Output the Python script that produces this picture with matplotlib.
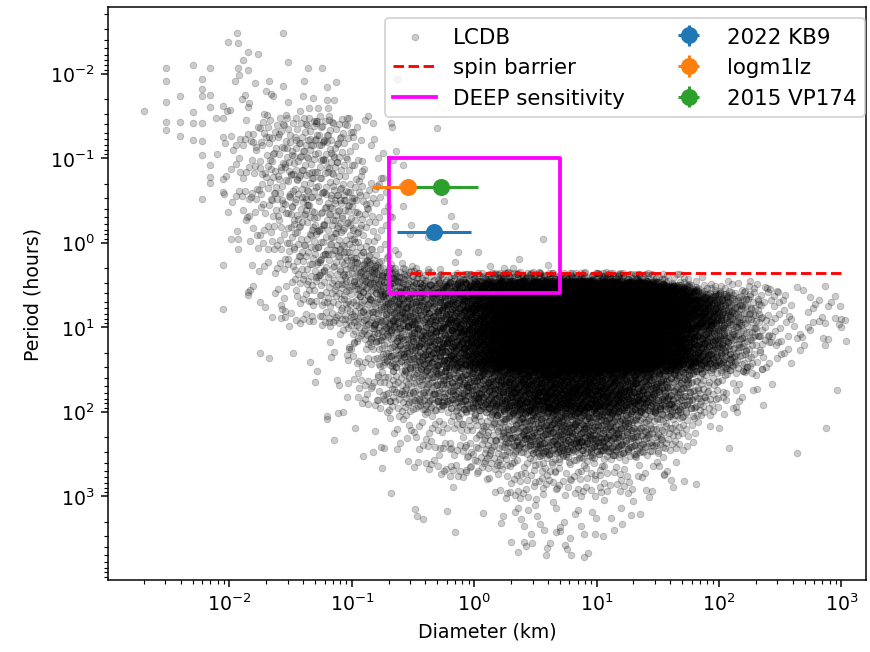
import numpy as np
import matplotlib
matplotlib.use("Agg")
import matplotlib.pyplot as plt

# ---------------- data ----------------
# LCDB dense part: per diameter column (centre in log10 km, 0.25 dex apart)
# list of (log10 P low, log10 P high, number of asteroids)
lcdb_col_logd = [-1.875, -1.625, -1.375, -1.125, -0.875, -0.625, -0.375, -0.125, 0.125, 0.375,
                 0.625, 0.875, 1.125, 1.375, 1.625, 1.875, 2.125, 2.375, 2.625, 2.875]
lcdb_col_segments = [
    [(-2.0, -1.5, 8), (-1.5, -0.5, 40), (-0.5, 0.0, 8)],
    [(-1.75, -1.5, 4), (-1.5, -0.3, 80), (-0.3, 0.4, 30), (0.4, 1.0, 8), (1.0, 1.4, 2)],
    [(-1.75, -1.5, 4), (-1.5, -0.5, 95), (-0.5, 0.4, 80), (0.4, 1.0, 30), (1.0, 1.6, 4)],
    [(-1.75, -1.5, 3), (-1.5, -0.5, 90), (-0.5, 0.4, 100), (0.4, 1.0, 55), (1.0, 2.0, 12), (2.0, 2.5, 2)],
    [(-1.5, -0.8, 10), (-0.8, 0.2, 70), (0.2, 0.6, 100), (0.6, 1.2, 90), (1.2, 1.9, 35), (1.9, 2.7, 6)],
    [(-1.2, 0.3, 3), (0.3, 0.6, 80), (0.6, 1.0, 130), (1.0, 1.5, 110), (1.5, 2.0, 55), (2.0, 2.6, 12), (2.6, 3.3, 3)],
    [(0.35, 0.45, 15), (0.45, 1.0, 180), (1.0, 1.5, 180), (1.5, 2.0, 95), (2.0, 2.7, 30), (2.7, 3.3, 3)],
    [(0.35, 0.45, 20), (0.45, 1.0, 290), (1.0, 1.5, 270), (1.5, 2.0, 140), (2.0, 2.8, 40), (2.8, 3.4, 2)],
    [(0.35, 0.45, 30), (0.45, 1.0, 520), (1.0, 1.5, 460), (1.5, 2.0, 220), (2.0, 2.7, 75), (2.7, 3.4, 5)],
    [(0.35, 0.45, 40), (0.45, 1.0, 760), (1.0, 1.5, 680), (1.5, 2.0, 320), (2.0, 2.5, 135), (2.5, 3.0, 30), (3.0, 3.5, 10), (3.5, 3.75, 4)],
    [(0.35, 0.45, 40), (0.45, 1.0, 850), (1.0, 1.5, 750), (1.5, 2.0, 380), (2.0, 2.5, 180), (2.5, 3.0, 30), (3.0, 3.7, 14)],
    [(0.35, 0.45, 40), (0.45, 1.0, 880), (1.0, 1.5, 780), (1.5, 2.0, 390), (2.0, 2.5, 180), (2.5, 3.0, 30), (3.0, 3.7, 12)],
    [(0.35, 0.45, 35), (0.45, 1.0, 850), (1.0, 1.5, 750), (1.5, 2.0, 340), (2.0, 2.5, 160), (2.5, 3.0, 27), (3.0, 3.5, 6)],
    [(0.35, 0.45, 25), (0.45, 1.0, 730), (1.0, 1.5, 660), (1.5, 2.0, 250), (2.0, 2.5, 95), (2.5, 3.0, 15), (3.0, 3.3, 3)],
    [(0.35, 0.5, 15), (0.5, 1.0, 560), (1.0, 1.5, 520), (1.5, 2.0, 140), (2.0, 2.5, 50), (2.5, 2.9, 8)],
    [(0.4, 0.6, 10), (0.6, 1.0, 300), (1.0, 1.5, 270), (1.5, 2.0, 55), (2.0, 2.3, 6)],
    [(0.45, 0.6, 8), (0.6, 1.0, 105), (1.0, 1.5, 100), (1.5, 2.0, 18)],
    [(0.5, 0.8, 22), (0.8, 1.2, 32), (1.2, 1.6, 12), (1.6, 2.0, 2)],
    [(0.5, 0.9, 8), (0.9, 1.4, 12)],
    [(0.6, 1.25, 18)],
]

# LCDB sparse points read individually: (log10 D [km], log10 P [h])
lcdb_sparse = [
    (-1.94, -2.48), (-1.56, -2.48), (-2.01, -2.37), (-1.93, -2.36), (-1.85, -2.26),
    (-1.77, -2.23), (-1.89, -2.16), (-1.93, -2.07), (-1.85, -2.04), (-1.52, -2.14),
    (-2.52, -2.06), (-2.30, -2.10), (-2.16, -2.06), (-1.36, -2.07), (-1.24, -2.06),
    (-1.68, -1.91), (-1.56, -1.85), (-1.64, -1.73), (-1.39, -1.91), (-1.32, -1.71),
    (-1.20, -1.84), (-1.13, -1.90),
    (-2.52, -1.91), (-2.52, -1.66), (-2.70, -1.56), (-2.40, -1.73), (-2.22, -1.94),
    (-2.52, -1.43), (-2.52, -1.33), (-2.40, -1.43), (-2.40, -1.26), (-2.30, -1.54),
    (-2.30, -1.41), (-2.30, -1.21), (-2.22, -1.82), (-2.22, -1.73), (-2.22, -1.41),
    (-2.22, -1.20), (-2.22, -1.04), (-2.22, -0.51), (-2.16, -1.75), (-2.16, -1.61),
    (-2.16, -0.92), (-2.16, -0.78), (-2.16, -0.71), (-2.10, -1.05), (-2.05, -0.75),
    (-2.05, -0.60), (-2.05, -1.48), (-2.05, -1.25), (-2.05, -1.62),
    (-2.05, 0.78), (-1.85, 0.62), (-1.83, 0.56), (-1.75, 0.70), (-1.93, 0.08),
    (-2.05, 0.27), (-1.85, 0.59), (-1.58, 0.89), (-1.57, 0.79), (-1.99, -0.04),
    (-1.93, -0.04),
    (-0.83, -1.41), (-0.67, -1.37), (-0.30, -1.36), (-0.63, -1.93),
    (-0.58, -0.92), (-0.66, -0.98), (-0.58, -0.43), (-0.52, -0.21), (-0.69, -0.31),
    (-0.62, 0.14), (-0.51, 0.28), (-0.59, 0.24), (-0.25, -0.49), (-0.19, -0.31),
    (-0.16, -0.20), (-0.38, -0.07), (-0.13, 0.11), (-0.16, 0.23), (-0.38, 0.31),
    (-0.28, 0.31), (0.03, 0.11), (0.37, 0.20), (0.56, -0.04), (0.13, 0.28),
    (0.32, 0.30), (0.24, 0.30), (0.60, 0.26),
    (2.96, 1.75), (2.87, 2.19), (2.64, 2.49), (2.08, 2.43), (2.15, 2.01),
    (3.00, 0.90), (3.00, 1.00), (2.99, 0.75),
]

# spin barrier and DEEP sensitivity box
spin_barrier_d = [0.3, 1000.0]
spin_barrier_p = 2.3
deep_d = [0.2, 5.0]
deep_p = [0.1, 4.0]

# objects
obj_names = ["2022 KB9", "logm1lz", "2015 VP174"]
obj_diam = [0.47, 0.29, 0.54]
obj_diam_low = [0.235, 0.145, 0.27]
obj_diam_high = [0.94, 0.58, 1.07]
obj_period = [0.74, 0.22, 0.22]
obj_colors = ["#1f77b4", "#ff7f0e", "#2ca02c"]

# axis ticks
x_major_ticks = [1e-2, 1e-1, 1e0, 1e1, 1e2, 1e3]
y_major_ticks = [1e-2, 1e-1, 1e0, 1e1, 1e2, 1e3]

# ---------------- expand density columns into points ----------------
# deterministic low-discrepancy filling; triangular spreading blends columns
# and segments smoothly, except at the sharp spin-barrier edge.
COL_W = 0.25
P_BLEND = 0.1
G3 = 1.2207440846057596
A1, A2, A3 = 1 / G3, 1 / G3 ** 2, 1 / G3 ** 3


def tri(u):
    return np.where(u < 0.5, np.sqrt(2 * u) - 1, 1 - np.sqrt(2 * (1 - u)))


k0 = 0
xs, ys = [], []
for ld, segs in zip(lcdb_col_logd, lcdb_col_segments):
    for plo, phi, n in segs:
        idx = np.arange(k0, k0 + n)
        k0 += n
        u = (0.5 + idx * A1) % 1.0
        v = (0.5 + idx * A2) % 1.0
        w = (0.5 + idx * A3) % 1.0
        lp = plo + (phi - plo) * v + P_BLEND * tri(w)
        if ld > -0.8 and plo < 0.6:
            lp = np.where(lp < plo, 2 * plo - lp, lp)
        xs.append(10 ** (ld + COL_W * tri(u)))
        ys.append(10 ** lp)
sp = np.array(lcdb_sparse)
xs.append(10 ** sp[:, 0])
ys.append(10 ** sp[:, 1])
lcdb_d = np.concatenate(xs)
lcdb_p = np.concatenate(ys)

# ---------------- plot ----------------
fig = plt.figure(figsize=(6.4, 4.8), dpi=136)
ax = fig.add_axes([108 / 870, 1 - 580 / 652, (866 - 108) / 870, (580 - 8) / 652])

ax.scatter(lcdb_d, lcdb_p, s=12, c="k", alpha=0.2, linewidths=0.5,
           edgecolors="face", label="LCDB", zorder=1)
ax.plot(spin_barrier_d, [spin_barrier_p, spin_barrier_p], "--", color="red",
        lw=1.5, label="spin barrier", zorder=2)
ax.plot([deep_d[0], deep_d[1], deep_d[1], deep_d[0], deep_d[0]],
        [deep_p[0], deep_p[0], deep_p[1], deep_p[1], deep_p[0]],
        color="magenta", lw=2, label="DEEP sensitivity", zorder=2)

for name, d, dlo, dhi, p, col in zip(obj_names, obj_diam, obj_diam_low,
                                     obj_diam_high, obj_period, obj_colors):
    ax.errorbar([d], [p], xerr=[[d - dlo], [dhi - d]], yerr=[[0.0], [0.0]],
                fmt="o", color=col, ms=8, elinewidth=1.6, label=name, zorder=3)

ax.set_xscale("log")
ax.set_yscale("log")
ax.set_xlim(1.02e-3, 1.6e3)
ax.set_ylim(9.8e3, 1.64e-3)
ax.set_xticks(x_major_ticks)
ax.set_yticks(y_major_ticks)
ax.set_xlabel("Diameter (km)")
ax.set_ylabel("Period (hours)")

ax.legend(ncol=2, loc="upper right", bbox_to_anchor=(865 / 870, 1 - 19 / 652),
          bbox_transform=fig.transFigure, borderaxespad=0, fontsize=11.3)

fig.savefig("out.png", dpi=136)
